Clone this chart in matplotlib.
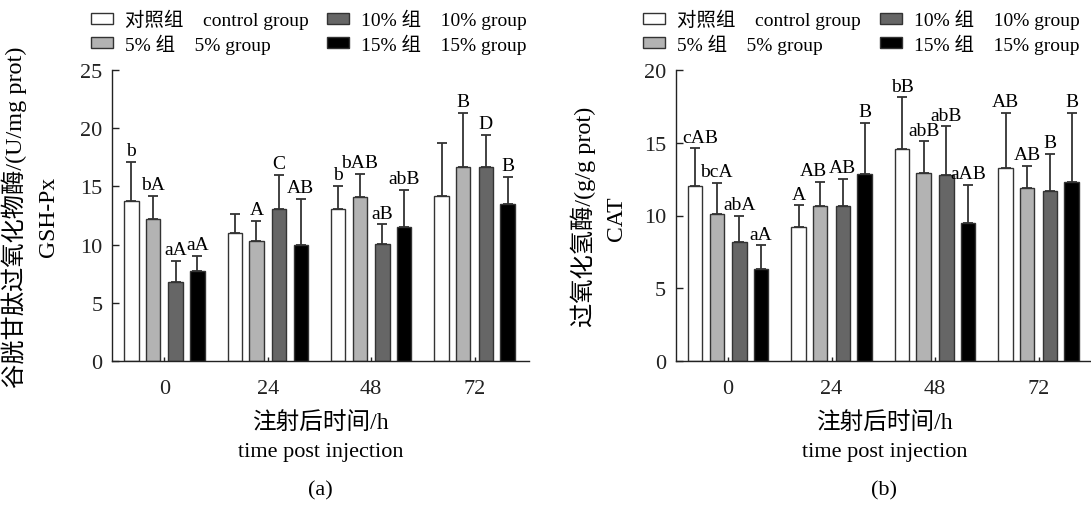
import matplotlib
matplotlib.use("Agg")
import matplotlib.pyplot as plt
import numpy as np

plt.rcParams['font.family'] = ['Liberation Serif', 'Noto Sans CJK SC']

times = ['0', '24', '48', '72']
groups = ['对照组    control group', '5% 组    5% group', '10% 组    10% group', '15% 组    15% group']
colors = ['#ffffff', '#b3b3b3', '#666666', '#000000']

# Panel (a) GSH-Px
gsh_mean = {
    'ctrl': [13.73, 10.96, 13.10, 14.16],
    'p5':   [12.24, 10.27, 14.10, 16.70],
    'p10':  [6.78, 13.04, 10.04, 16.70],
    'p15':  [7.72, 9.95, 11.50, 13.53],
}
gsh_sd = {
    'ctrl': [3.35, 1.63, 1.95, 4.55],
    'p5':   [1.92, 1.74, 1.98, 4.64],
    'p10':  [1.80, 2.98, 1.69, 2.72],
    'p15':  [1.32, 3.98, 3.17, 2.32],
}
gsh_lab = {
    'ctrl': ['b', '', 'b', ''],
    'p5':   ['bA', 'A', 'bAB', 'B'],
    'p10':  ['aA', 'C', 'aB', 'D'],
    'p15':  ['aA', 'AB', 'abB', 'B'],
}

# Panel (b) CAT
cat_mean = {
    'ctrl': [12.04, 9.24, 14.55, 13.25],
    'p5':   [10.09, 10.62, 12.95, 11.88],
    'p10':  [8.17, 10.66, 12.75, 11.67],
    'p15':  [6.29, 12.88, 9.47, 12.29],
}
cat_sd = {
    'ctrl': [2.58, 1.45, 3.57, 3.82],
    'p5':   [2.15, 1.67, 2.15, 1.53],
    'p10':  [1.81, 1.86, 3.38, 2.56],
    'p15':  [1.65, 3.50, 2.61, 4.78],
}
cat_lab = {
    'ctrl': ['cAB', 'A', 'bB', 'AB'],
    'p5':   ['bcA', 'AB', 'abB', 'AB'],
    'p10':  ['abA', 'AB', 'abB', 'B'],
    'p15':  ['aA', 'B', 'aAB', 'B'],
}

keys = ['ctrl', 'p5', 'p10', 'p15']
offsets = [-0.319, -0.110, 0.109, 0.319]
width = 0.14
# small horizontal nudges (points) for a few letter labels, as in the original
gsh_shift = {}
cat_shift = {('ctrl', 0): 3.5, ('p5', 1): -5.0}

W, H = 1091, 506
fig = plt.figure(figsize=(W/100, H/100), dpi=100)

def px(x, y):
    return x / W, 1 - y / H

ax1 = fig.add_axes([112.3/W, (H-362)/H, 416.7/W, 291/H])
ax2 = fig.add_axes([676/W, (H-362)/H, 417/W, 291/H])

def draw(ax, means, sds, labs, shifts, ylim, yticks, xlim):
    x = np.arange(len(times))
    for i, k in enumerate(keys):
        ax.bar(x + offsets[i], means[k], width, color=colors[i],
               edgecolor='#333333', linewidth=1.0, zorder=2, label=groups[i])
        ax.errorbar(x + offsets[i], means[k],
                    yerr=[np.zeros(len(times)), sds[k]], fmt='none',
                    ecolor='#333333', elinewidth=1.3, capsize=3.5, capthick=1.3, zorder=3)
        for j in range(len(times)):
            if labs[k][j]:
                ax.annotate(labs[k][j], (x[j] + offsets[i], means[k][j] + sds[k][j]),
                            xytext=(shifts.get((k, j), 0), 2), textcoords='offset points',
                            ha='center', va='bottom', fontsize=14)
    ax.set_ylim(*ylim)
    ax.set_xlim(*xlim)
    ax.set_yticks(yticks)
    ax.set_xticks(x)
    ax.set_xticklabels(times)
    for s in ['top', 'right']:
        ax.spines[s].set_visible(False)
    for s in ['left', 'bottom']:
        ax.spines[s].set_linewidth(1.0)
        ax.spines[s].set_color('#222222')
    ax.tick_params(axis='y', direction='in', length=5, width=1, pad=7, labelsize=16, colors='#222222')
    ax.tick_params(axis='x', direction='in', length=3, width=1, pad=13, labelsize=16, colors='#222222')

draw(ax1, gsh_mean, gsh_sd, gsh_lab, gsh_shift, (0, 25), [0, 5, 10, 15, 20, 25], (-0.504, 3.526))
draw(ax2, cat_mean, cat_sd, cat_lab, cat_shift, (0, 20), [0, 5, 10, 15, 20], (-0.504, 3.526))

for ax, lx in [(ax1, 91), (ax2, 643.4)]:
    ax.legend(loc='upper left', bbox_to_anchor=px(lx, 10), bbox_transform=fig.transFigure,
              ncol=2, frameon=False, fontsize=14, handlelength=1.13, handleheight=0.45,
              handletextpad=0.62, columnspacing=0.95, labelspacing=0.2, borderpad=0,
              borderaxespad=0)

# y-axis titles (two lines each)
fig.text(*px(13.9, 217), '谷胱甘肽过氧化物酶/(U/mg prot)', rotation=90,
         ha='center', va='center', fontsize=17.5)
fig.text(*px(48.7, 217), 'GSH-Px', rotation=90, ha='center', va='center', fontsize=17)
fig.text(*px(583.2, 217), '过氧化氢酶/(g/g prot)', rotation=90,
         ha='center', va='center', fontsize=17.5)
fig.text(*px(616.3, 219), 'CAT', rotation=90, ha='center', va='center', fontsize=17)

for cx, tag in [(320.6, '(a)'), (884.5, '(b)')]:
    fig.text(*px(cx, 423.3), '注射后时间/h', ha='center', va='center', fontsize=17)
    fig.text(*px(cx, 452.7), 'time post injection', ha='center', va='center', fontsize=16)
    fig.text(*px(cx, 490.7), tag, ha='center', va='center', fontsize=16)

fig.savefig('out.png', dpi=100)
